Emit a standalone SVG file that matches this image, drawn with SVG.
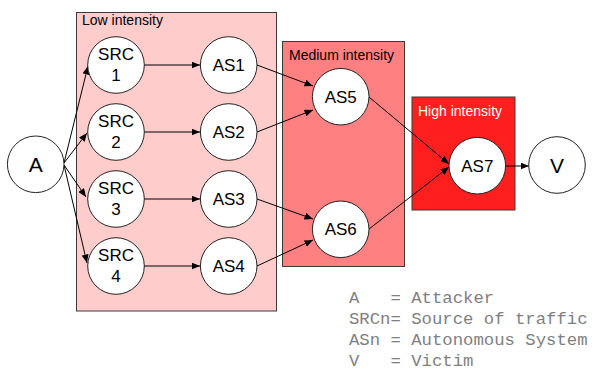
<svg xmlns="http://www.w3.org/2000/svg" width="595" height="371" viewBox="0 0 595 371">
  <style>
    .zone { stroke: #3a3a3a; stroke-width: 1; }
    .zlabel { font-family: "Liberation Sans", Arial, sans-serif; font-size: 14px; }
    .node circle { fill: #ffffff; stroke: #222222; stroke-width: 1; }
    .node text { font-family: "Liberation Sans", Arial, sans-serif; font-size: 17px; fill: #000000; text-anchor: middle; }
    .node text.big { font-size: 21px; }
    .edges line { stroke: #000000; stroke-width: 1; marker-end: url(#arrow); }
    .legend { font-family: "Liberation Mono", "Courier New", monospace; font-size: 17.3px; fill: #7f7f7f; white-space: pre; }
  </style>
  <defs>
    <marker id="arrow" markerUnits="userSpaceOnUse" markerWidth="9" markerHeight="7" refX="8.5" refY="3.5" orient="auto">
      <path d="M0,0 L8.5,3.5 L0,7 z" fill="#000000"/>
    </marker>
  </defs>

  <rect width="595" height="371" fill="#ffffff"/>

  <!-- intensity zones -->
  <g id="zone-low">
    <rect class="zone" x="76.5" y="12.5" width="200" height="298.5" fill="#ffcccc"/>
    <text class="zlabel" x="82" y="25" fill="#000000">Low intensity</text>
  </g>
  <g id="zone-medium">
    <rect class="zone" x="282.5" y="41.5" width="122" height="225" fill="#ff8080"/>
    <text class="zlabel" x="289" y="60" fill="#000000">Medium intensity</text>
  </g>
  <g id="zone-high">
    <rect class="zone" x="412" y="97" width="103" height="113" fill="#ff1f1f"/>
    <text class="zlabel" x="418" y="116" fill="#ffffff">High intensity</text>
  </g>

  <!-- connectors -->
  <g id="edges" class="edges">
    <line x1="64" y1="163" x2="88" y2="66"/>
    <line x1="64" y1="163" x2="87" y2="133"/>
    <line x1="64" y1="165" x2="86" y2="197"/>
    <line x1="64" y1="165" x2="87" y2="263"/>
    <line x1="144" y1="65" x2="200" y2="65"/>
    <line x1="144" y1="132" x2="200" y2="132"/>
    <line x1="144" y1="199" x2="200" y2="199"/>
    <line x1="144" y1="266" x2="200" y2="266"/>
    <line x1="257" y1="65" x2="313" y2="86"/>
    <line x1="257" y1="132" x2="313" y2="110"/>
    <line x1="257" y1="199" x2="313" y2="219"/>
    <line x1="257" y1="266" x2="313" y2="240"/>
    <line x1="369" y1="97" x2="449" y2="164"/>
    <line x1="369" y1="229" x2="449" y2="167"/>
    <line x1="506" y1="166" x2="529" y2="166"/>
  </g>

  <!-- nodes -->
  <g id="node-A" class="node">
    <circle cx="35.7" cy="164.3" r="28.3"/>
    <text class="big" x="35.7" y="172">A</text>
  </g>
  <g id="node-SRC1" class="node">
    <circle cx="116" cy="65" r="28.3"/>
    <text x="116" y="60">SRC</text>
    <text x="116" y="81">1</text>
  </g>
  <g id="node-SRC2" class="node">
    <circle cx="116" cy="132" r="28.3"/>
    <text x="116" y="127">SRC</text>
    <text x="116" y="148">2</text>
  </g>
  <g id="node-SRC3" class="node">
    <circle cx="116" cy="199" r="28.3"/>
    <text x="116" y="194">SRC</text>
    <text x="116" y="215">3</text>
  </g>
  <g id="node-SRC4" class="node">
    <circle cx="116" cy="266" r="28.3"/>
    <text x="116" y="261">SRC</text>
    <text x="116" y="282">4</text>
  </g>
  <g id="node-AS1" class="node">
    <circle cx="228.7" cy="65" r="28.3"/>
    <text x="228.7" y="71">AS1</text>
  </g>
  <g id="node-AS2" class="node">
    <circle cx="228.7" cy="132" r="28.3"/>
    <text x="228.7" y="138">AS2</text>
  </g>
  <g id="node-AS3" class="node">
    <circle cx="228.7" cy="199" r="28.3"/>
    <text x="228.7" y="205">AS3</text>
  </g>
  <g id="node-AS4" class="node">
    <circle cx="228.7" cy="266" r="28.3"/>
    <text x="228.7" y="272">AS4</text>
  </g>
  <g id="node-AS5" class="node">
    <circle cx="340.7" cy="96.7" r="28.3"/>
    <text x="340.7" y="102.7">AS5</text>
  </g>
  <g id="node-AS6" class="node">
    <circle cx="340.7" cy="229.3" r="28.3"/>
    <text x="340.7" y="235.3">AS6</text>
  </g>
  <g id="node-AS7" class="node">
    <circle cx="477.3" cy="165.7" r="28.3"/>
    <text x="477.3" y="171.7">AS7</text>
  </g>
  <g id="node-V" class="node">
    <circle cx="557" cy="165" r="28.3"/>
    <text class="big" x="557" y="172.5">V</text>
  </g>

  <!-- legend -->
  <g id="legend">
    <text class="legend" x="349" y="302.5">A   = Attacker</text>
    <text class="legend" x="349" y="323.5">SRCn= Source of traffic</text>
    <text class="legend" x="349" y="344.5">ASn = Autonomous System</text>
    <text class="legend" x="349" y="365.5">V   = Victim</text>
  </g>
</svg>
